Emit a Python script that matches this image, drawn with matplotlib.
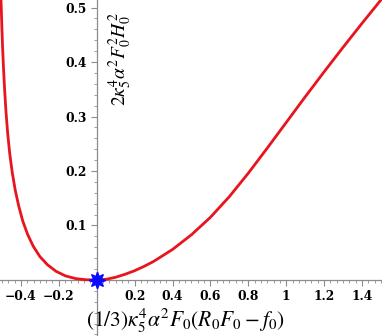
import matplotlib
matplotlib.use("Agg")
import matplotlib.pyplot as plt
from matplotlib.ticker import MultipleLocator, FixedLocator

# curve points
curve_x = [-0.505, -0.501, -0.497, -0.492, -0.486, -0.479, -0.470, -0.459, -0.446,
           -0.430, -0.411, -0.390, -0.365, -0.335, -0.300, -0.260, -0.215, -0.165,
           -0.110, -0.055, 0.000, 0.050, 0.100, 0.150, 0.200, 0.250, 0.300, 0.400,
           0.500, 0.600, 0.700, 0.800, 0.900, 1.000, 1.100, 1.200, 1.300, 1.400, 1.500]
curve_y = [0.514, 0.470, 0.430, 0.390, 0.350, 0.310, 0.270, 0.232, 0.198,
           0.165, 0.135, 0.108, 0.084, 0.062, 0.043, 0.028, 0.016, 0.0075,
           0.0025, 0.0004, 0.000, 0.0013, 0.005, 0.0105, 0.017, 0.025, 0.034, 0.056,
           0.083, 0.115, 0.153, 0.196, 0.242, 0.289, 0.336, 0.382, 0.427, 0.471, 0.514]
point_x = [0.0]
point_y = [0.0]

x_ticks = [-0.4, -0.2, 0.2, 0.4, 0.6, 0.8, 1.0, 1.2, 1.4]
x_tick_labels = ["\u22120.4", "\u22120.2", "0.2", "0.4", "0.6", "0.8", "1", "1.2", "1.4"]
y_ticks = [0.1, 0.2, 0.3, 0.4, 0.5]
y_tick_labels = ["0.1", "0.2", "0.3", "0.4", "0.5"]

plt.rcParams['mathtext.fontset'] = 'stix'

fig = plt.figure(figsize=(3.82, 3.36), dpi=100)
ax = fig.add_axes([0, 0, 1, 1])
ax.set_xlim(-0.5103, 1.5055)
ax.set_ylim(-0.1028, 0.5138)
ax.patch.set_alpha(0)

ax.plot(curve_x, curve_y, color='#e8141e', lw=2.0, solid_joinstyle='round',
        solid_capstyle='round', zorder=3)
ax.plot(point_x, point_y, marker=(8, 1, 0), color='#0a0aff', markersize=12,
        linestyle='none', zorder=4, clip_on=False)

for s in ['top', 'right']:
    ax.spines[s].set_visible(False)
ax.spines['left'].set_position(('data', 0))
ax.spines['bottom'].set_position(('data', 0))
for s in ['left', 'bottom']:
    ax.spines[s].set_color('#8c8c8c')
    ax.spines[s].set_linewidth(0.9)

ax.xaxis.set_major_locator(FixedLocator(x_ticks))
ax.yaxis.set_major_locator(FixedLocator(y_ticks))
ax.xaxis.set_minor_locator(MultipleLocator(0.2 / 6))
ax.yaxis.set_minor_locator(MultipleLocator(0.02))
ax.set_xticklabels(x_tick_labels, fontfamily='DejaVu Serif', fontweight='bold', fontsize=8.8)
ax.set_yticklabels(y_tick_labels, fontfamily='DejaVu Serif', fontweight='bold', fontsize=8.8)
ax.tick_params(which='major', direction='out', length=4, width=0.8, color='#8c8c8c', pad=3)
ax.tick_params(which='minor', direction='out', length=2.2, width=0.6, color='#8c8c8c')

fig.text(0.484, 0.046, r'$(1/3)\kappa_5^4\alpha^2F_0(R_0F_0-f_0)$', ha='center', va='center',
         fontsize=15.5)
fig.text(0.314, 0.824, r'$2\kappa_5^4\alpha^2F_0^2H_0^2$', ha='center', va='center',
         fontsize=14, rotation=90)

fig.savefig('out.png', dpi=100)
